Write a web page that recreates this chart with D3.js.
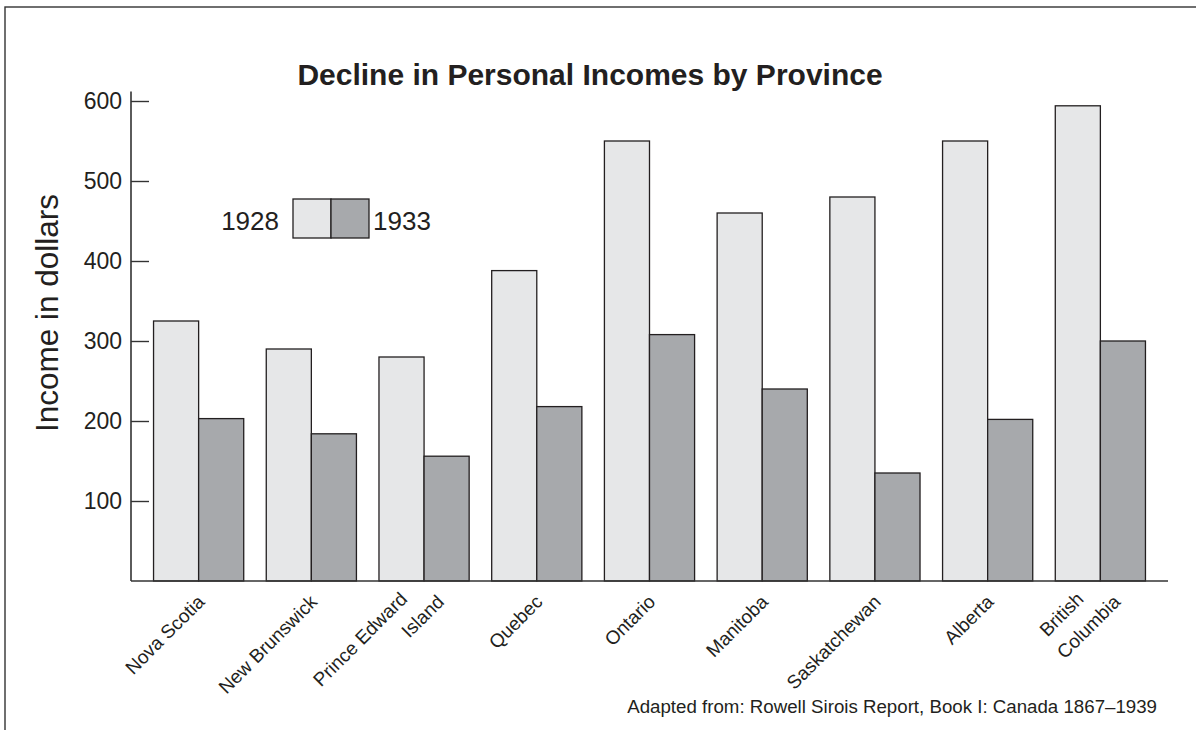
<!DOCTYPE html>
<html>
<head>
<meta charset="utf-8">
<script src="https://cdn.jsdelivr.net/npm/d3@7"></script>
<style>
  body { margin: 0; background: #fff; }
  text { font-family: "Liberation Sans", Arial, sans-serif; fill: #231f20; }
</style>
</head>
<body>
<script>
// data
const provinces = ["Nova Scotia", "New Brunswick", "Prince Edward\nIsland", "Quebec", "Ontario",
  "Manitoba", "Saskatchewan", "Alberta", "British\nColumbia"]
const years = ["1928", "1933"]
const income1928 = [325, 290, 280, 388, 550, 460, 480, 550, 594]
const income1933 = [203, 184, 156, 218, 308, 240, 135, 202, 300]
const yTicks = [100, 200, 300, 400, 500, 600]

const width = 1196
const height = 730
const colors = { "1928": "#e6e7e8", "1933": "#a7a9ac" }

const svg = d3.select("body").append("svg")
  .attr("width", width)
  .attr("height", height)

// outer frame (only top and left show in the picture)
svg.append("rect")
  .attr("x", 5).attr("y", 7)
  .attr("width", 1300).attr("height", 800)
  .attr("fill", "none")
  .attr("stroke", "#333")
  .attr("stroke-width", 1.4)

const x = d3.scaleBand()
  .domain(provinces)
  .range([131, 1168])
  .paddingInner(0.2)
  .paddingOuter(0.2)

const x1 = d3.scaleBand()
  .domain(years)
  .range([0, x.bandwidth()])

const y = d3.scaleLinear()
  .domain([0, 600])
  .range([581, 101])

const rows = provinces.map((p, i) => ({ p, vals: [income1928[i], income1933[i]] }))

const groups = svg.selectAll("g.prov")
  .data(rows)
  .enter()
  .append("g")
  .attr("class", "prov")
  .attr("transform", d => `translate(${x(d.p)},0)`)

groups.selectAll("rect")
  .data(d => d.vals.map((v, j) => ({ year: years[j], v })))
  .enter()
  .append("rect")
  .attr("x", d => x1(d.year))
  .attr("y", d => y(d.v))
  .attr("width", x1.bandwidth())
  .attr("height", d => y(0) - y(d.v))
  .attr("fill", d => colors[d.year])
  .attr("stroke", "#231f20")
  .attr("stroke-width", 1.3)

// y axis, ticks pointing in
const yAxis = d3.axisLeft(y)
  .tickValues(yTicks)
  .tickSizeInner(-18)
  .tickSizeOuter(0)
  .tickPadding(9)

const ya = svg.append("g")
  .attr("transform", "translate(131,0)")
  .call(yAxis)
ya.select(".domain").remove()
ya.selectAll(".tick line").attr("stroke", "#333").attr("stroke-width", 1.4)
ya.selectAll(".tick text")
  .style("font-size", "23px")
  .style("font-family", "'Liberation Sans', Arial, sans-serif")
  .attr("fill", "#231f20")

svg.append("line")
  .attr("x1", 131).attr("x2", 131)
  .attr("y1", y(0)).attr("y2", y(612))
  .attr("stroke", "#333").attr("stroke-width", 1.6)

svg.append("line")
  .attr("x1", 131).attr("x2", 1168)
  .attr("y1", y(0)).attr("y2", y(0))
  .attr("stroke", "#333").attr("stroke-width", 1.6)

// x labels, rotated
const labels = svg.selectAll("text.xlab")
  .data(provinces)
  .enter()
  .append("text")
  .attr("class", "xlab")
  .attr("text-anchor", "end")
  .attr("transform", d => `translate(${x(d) + x.bandwidth() / 2 + 7},603) rotate(-45)`)
  .style("font-size", "19px")

labels.each(function (d) {
  const lines = d.split("\n")
  const t = d3.select(this)
  if (lines.length === 1) {
    t.append("tspan").attr("x", 0).attr("y", 0).text(lines[0])
  } else {
    t.append("tspan").attr("x", -14).attr("y", -18).text(lines[0])
    t.append("tspan").attr("x", 10).attr("y", 10).text(lines[1])
  }
})

// title
svg.append("text")
  .attr("x", 590).attr("y", 85)
  .attr("text-anchor", "middle")
  .style("font-size", "30px")
  .style("font-weight", "bold")
  .text("Decline in Personal Incomes by Province")

// y label
svg.append("text")
  .attr("transform", "translate(58,313) rotate(-90)")
  .attr("text-anchor", "middle")
  .style("font-size", "31.5px")
  .text("Income in dollars")

// legend
const lg = svg.append("g").attr("transform", "translate(293,199)")
lg.selectAll("rect")
  .data(years)
  .enter()
  .append("rect")
  .attr("x", (d, i) => i * 38)
  .attr("y", 0)
  .attr("width", 38)
  .attr("height", 39)
  .attr("fill", d => colors[d])
  .attr("stroke", "#231f20")
  .attr("stroke-width", 1.3)
lg.append("text").attr("x", -14).attr("y", 31).attr("text-anchor", "end")
  .style("font-size", "26px").text(years[0])
lg.append("text").attr("x", 76 + 4).attr("y", 31)
  .style("font-size", "26px").text(years[1])

// source note
svg.append("text")
  .attr("x", 1157).attr("y", 713)
  .attr("text-anchor", "end")
  .style("font-size", "18.7px")
  .text("Adapted from: Rowell Sirois Report, Book I: Canada 1867–1939")
</script>
</body>
</html>
